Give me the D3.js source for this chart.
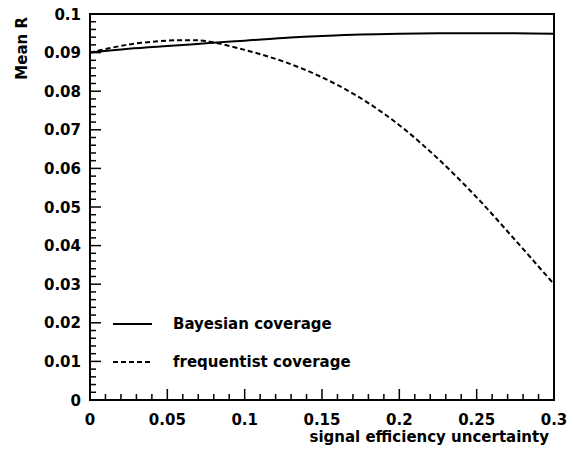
<!DOCTYPE html>
<html>
<head>
<meta charset="utf-8">
<script src="https://cdn.jsdelivr.net/npm/d3@7"></script>
<style>
  html, body { margin: 0; padding: 0; background: #fff; }
  svg { display: block; }
  text { font-family: "DejaVu Sans", "Liberation Sans", Arial, sans-serif; font-weight: bold; fill: #000; }
</style>
</head>
<body>
<svg id="chart" width="574" height="451"></svg>
<script>
// ---- data ----
const xValues = [0, 0.025, 0.05, 0.065, 0.075, 0.1, 0.125, 0.15, 0.175, 0.2, 0.225, 0.25, 0.275, 0.3];
const bayesianValues = [0.0900, 0.0910, 0.0917, 0.0921, 0.0924, 0.0931, 0.0938, 0.0943, 0.0947, 0.0949, 0.0950, 0.0950, 0.0950, 0.0949];
const frequentistValues = [0.0900, 0.0921, 0.0931, 0.0932, 0.0930, 0.0907, 0.0877, 0.0836, 0.0782, 0.0712, 0.0625, 0.0525, 0.0414, 0.0300];
const seriesNames = ["Bayesian coverage", "frequentist coverage"];
const xTickLabels = [0, 0.05, 0.1, 0.15, 0.2, 0.25, 0.3];
const yTickLabels = [0, 0.01, 0.02, 0.03, 0.04, 0.05, 0.06, 0.07, 0.08, 0.09, 0.1];
const xTitle = "signal efficiency uncertainty";
const yTitle = "Mean R";

// ---- layout ----
const L = 90, R = 554, T = 14, B = 400;
const svg = d3.select("#chart");
const x = d3.scaleLinear().domain([0, 0.3]).range([L, R]);
const y = d3.scaleLinear().domain([0, 0.1]).range([B, T]);

// minor + major ticks (inside)
const xMinor = d3.range(0, 31).map(i => i / 100);
const yMinor = d3.range(0, 51).map(i => i / 500);
const isMajorX = v => xTickLabels.some(t => Math.abs(t - v) < 1e-9);
const isMajorY = v => yTickLabels.some(t => Math.abs(t - v) < 1e-9);

const g = svg.append("g");
g.selectAll("line.xt").data(xMinor).enter().append("line")
  .attr("x1", d => x(d)).attr("x2", d => x(d))
  .attr("y1", B).attr("y2", d => B - (isMajorX(d) ? 11 : 6))
  .attr("stroke", "#000").attr("stroke-width", 1.5);
g.selectAll("line.yt").data(yMinor).enter().append("line")
  .attr("y1", d => y(d)).attr("y2", d => y(d))
  .attr("x1", L).attr("x2", d => L + (isMajorY(d) ? 11 : 6))
  .attr("stroke", "#000").attr("stroke-width", 1.5);

// frame
svg.append("rect").attr("x", L).attr("y", T).attr("width", R - L).attr("height", B - T)
  .attr("fill", "none").attr("stroke", "#000").attr("stroke-width", 2);

// tick labels
svg.selectAll("text.xl").data(xTickLabels).enter().append("text")
  .attr("x", d => x(d)).attr("y", 425).attr("text-anchor", "middle")
  .attr("font-size", 15).text(d => String(d));
svg.selectAll("text.yl").data(yTickLabels).enter().append("text")
  .attr("x", 81).attr("y", d => y(d) + 5.5).attr("text-anchor", "end")
  .attr("font-size", 15).text(d => String(d));

// axis titles
svg.append("text").attr("x", 549).attr("y", 442).attr("text-anchor", "end")
  .attr("font-size", 15).text(xTitle);
svg.append("text").attr("transform", "translate(27,17) rotate(-90)").attr("text-anchor", "end")
  .attr("font-size", 15).text(yTitle);

// curves
const line = d3.line().x(d => x(d[0])).y(d => y(d[1])).curve(d3.curveCatmullRom);
const bayes = xValues.map((v, i) => [v, bayesianValues[i]]);
const freq = xValues.map((v, i) => [v, frequentistValues[i]]);
svg.append("path").attr("d", line(bayes)).attr("fill", "none").attr("stroke", "#000").attr("stroke-width", 2);
svg.append("path").attr("d", line(freq)).attr("fill", "none").attr("stroke", "#000").attr("stroke-width", 2)
  .attr("stroke-dasharray", "5,3");

// legend
const legY = [324, 362];
const dashes = [null, "5,3"];
legY.forEach((ly, i) => {
  const l = svg.append("line").attr("x1", 113).attr("x2", 152).attr("y1", ly).attr("y2", ly)
    .attr("stroke", "#000").attr("stroke-width", 2);
  if (dashes[i]) l.attr("stroke-dasharray", dashes[i]);
  svg.append("text").attr("x", 173).attr("y", ly + 5).attr("font-size", 15).text(seriesNames[i]);
});
</script>
</body>
</html>
